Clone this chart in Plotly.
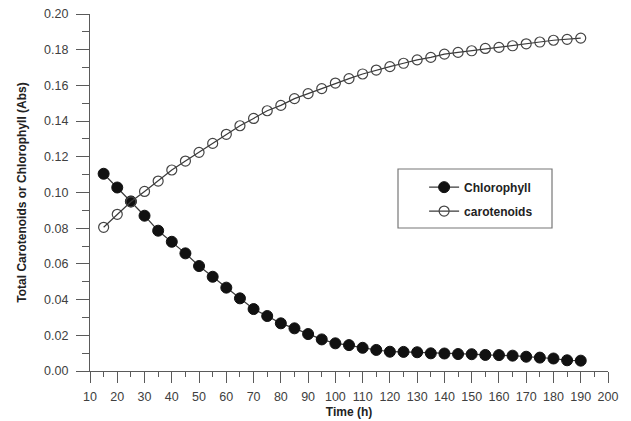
import plotly.graph_objects as go

time_h = [15, 20, 25, 30, 35, 40, 45, 50, 55, 60, 65, 70, 75, 80, 85, 90, 95, 100,
          105, 110, 115, 120, 125, 130, 135, 140, 145, 150, 155, 160, 165, 170, 175,
          180, 185, 190]

chlorophyll = [0.1105, 0.1028, 0.0950, 0.0870, 0.0786, 0.0724, 0.0659, 0.0588,
               0.0528, 0.0467, 0.0407, 0.0347, 0.0308, 0.0267, 0.0239, 0.0207,
               0.0177, 0.0155, 0.0145, 0.0130, 0.0118, 0.0108, 0.0107, 0.0105,
               0.0099, 0.0098, 0.0095, 0.0094, 0.0090, 0.0089, 0.0086, 0.0080,
               0.0075, 0.0070, 0.0060, 0.0058]

carotenoids = [0.0805, 0.0878, 0.0948, 0.1006, 0.1064, 0.1126, 0.1176, 0.1225,
               0.1275, 0.1326, 0.1374, 0.1415, 0.1458, 0.1488, 0.1526, 0.1554,
               0.1582, 0.1613, 0.1638, 0.1664, 0.1686, 0.1705, 0.1724, 0.1743,
               0.1757, 0.1775, 0.1785, 0.1794, 0.1807, 0.1813, 0.1822, 0.1833,
               0.1843, 0.1853, 0.1858, 0.1865]

series_names = ["Chlorophyll", "carotenoids"]

line_col = "#3a3a3a"
axis_col = "#5a5a5a"
font_fam = "Liberation Sans, Arial, sans-serif"

fig = go.Figure()
fig.add_trace(go.Scatter(
    x=time_h, y=chlorophyll, name=series_names[0], mode="lines+markers",
    line=dict(color=line_col, width=1.2),
    marker=dict(symbol="circle", size=11, color="#111111",
                line=dict(color="#111111", width=1)),
    legend="legend",
))
fig.add_trace(go.Scatter(
    x=time_h, y=carotenoids, name=series_names[1], mode="lines+markers",
    line=dict(color=line_col, width=1.2),
    marker=dict(symbol="circle-open", size=10, color="#444444",
                line=dict(color="#444444", width=1.2)),
    legend="legend2",
))

tick_font = dict(family=font_fam, size=12.5, color="#404040")
title_font = dict(family=font_fam, size=12, color="#222222")
leg_font = dict(family=font_fam, size=12, color="#222222", weight="bold")

# legend frame (decoration)
fig.add_shape(type="rect", xref="paper", yref="paper",
              x0=0.5946, x1=0.8919, y0=0.4006, y1=0.5658,
              line=dict(color="#777777", width=1.2), fillcolor="rgba(0,0,0,0)")

fig.update_layout(
    width=631, height=421,
    margin=dict(l=90, r=23, t=14, b=50),
    paper_bgcolor="#ffffff", plot_bgcolor="#ffffff",
    showlegend=True,
    legend=dict(x=0.645, y=0.515, xanchor="left", yanchor="middle",
                bgcolor="rgba(0,0,0,0)", borderwidth=0, font=leg_font),
    legend2=dict(x=0.645, y=0.448, xanchor="left", yanchor="middle",
                 bgcolor="rgba(0,0,0,0)", borderwidth=0, font=leg_font),
    xaxis=dict(
        range=[10, 200], tickmode="linear", tick0=10, dtick=10,
        automargin=False,
        showgrid=False, zeroline=False,
        showline=True, linecolor=axis_col, linewidth=1.2,
        ticks="outside", ticklen=11, tickwidth=1.2, tickcolor=axis_col,
        ticklabelstandoff=3,
        minor=dict(ticks="outside", ticklen=5, dtick=5, tickwidth=1.2,
                   tickcolor=axis_col, showgrid=False),
        tickfont=tick_font,
        title=dict(text="<b>Time (h)</b>", font=title_font, standoff=4),
    ),
    yaxis=dict(
        range=[0, 0.20], tickmode="linear", tick0=0, dtick=0.02, tickformat=".2f",
        automargin=False,
        showgrid=False, zeroline=False,
        showline=True, linecolor=axis_col, linewidth=1.2,
        ticks="outside", ticklen=13, tickwidth=1.2, tickcolor=axis_col,
        ticklabelstandoff=5,
        minor=dict(ticks="outside", ticklen=7, dtick=0.01, tickwidth=1.2,
                   tickcolor=axis_col, showgrid=False),
        tickfont=tick_font,
        title=dict(text="<b>Total Carotenoids or Chlorophyll (Abs)</b>",
                   font=title_font, standoff=14),
    ),
)

fig.write_html(
    "out.html",
    config={"displayModeBar": False},
    post_script="document.body.style.margin='0';document.body.style.overflow='hidden';",
)
